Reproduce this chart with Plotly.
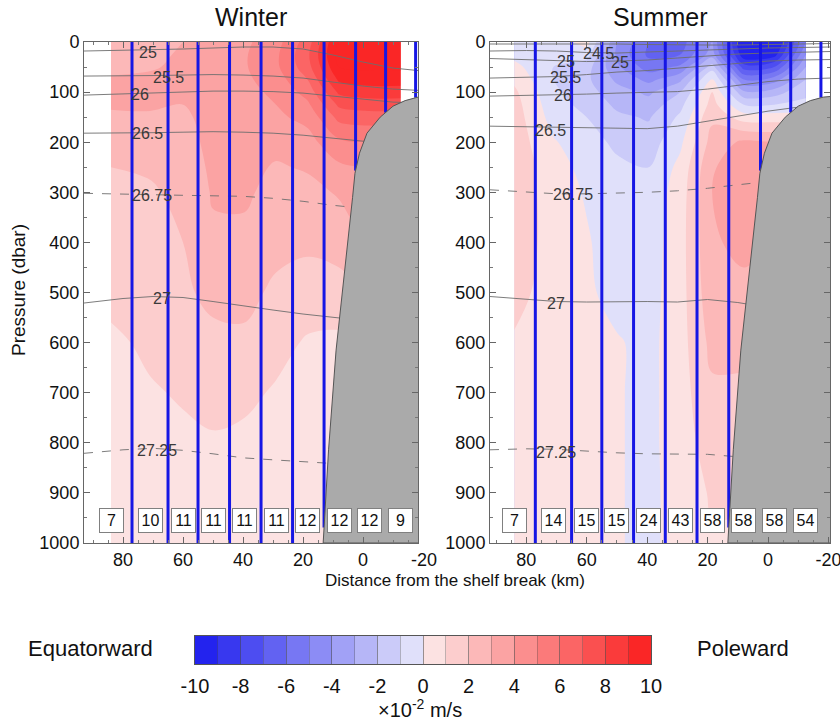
import numpy as np
import plotly.graph_objects as go

# ---------------------------------------------------------------------------
# Gridded along-slope velocity (x10^-2 m/s); rows = pressure, cols = bin centre
# ---------------------------------------------------------------------------
bin_km = [84, 71, 60, 50, 39.5, 29, 18.5, 8, -2, -12.5]
pressure = [0, 25, 50, 75, 100, 125, 150, 200, 250, 300, 400, 500, 600, 700, 800, 900, 1000]

winter_v = [
    [2.6, 2.7, 3.0, 3.4, 3.8, 4.6, 6.5, 10.2, 10.5, 10.5],
    [2.7, 2.8, 3.1, 3.5, 3.9, 4.8, 6.8, 10.4, 10.5, 10.5],
    [2.8, 2.9, 3.2, 3.6, 3.9, 4.8, 6.6, 10.0, 10.2, 10.2],
    [3.1, 3.2, 3.2, 3.6, 3.8, 4.5, 6.0, 9.2, 9.5, 9.5],
    [3.3, 3.3, 3.1, 3.5, 3.7, 4.2, 5.4, 8.2, 8.5, 8.5],
    [3.2, 3.2, 3.0, 3.5, 3.6, 4.0, 4.8, 7.2, 7.5, 7.5],
    [2.7, 2.8, 2.8, 3.4, 3.5, 3.8, 4.3, 6.3, 6.5, 6.5],
    [2.5, 2.5, 2.6, 3.3, 3.4, 3.3, 3.6, 4.8, 5.0, 5.0],
    [2.0, 2.1, 2.4, 3.2, 3.3, 2.9, 3.1, 3.8, 4.0, 4.0],
    [1.8, 1.9, 2.2, 3.1, 3.2, 2.6, 2.7, 3.1, 3.5, 3.5],
    [1.6, 1.7, 2.0, 2.8, 2.7, 2.3, 2.2, 2.4, 3.0, 3.0],
    [1.3, 1.5, 1.8, 2.3, 2.3, 1.8, 1.5, 1.6, 2.0, 2.0],
    [0.8, 1.2, 1.5, 1.7, 1.8, 1.3, 0.9, 0.8, 1.0, 1.0],
    [0.6, 0.9, 1.1, 1.3, 1.2, 0.9, 0.7, 0.7, 0.8, 0.8],
    [0.5, 0.7, 0.8, 0.9, 0.8, 0.7, 0.6, 0.6, 0.6, 0.6],
    [0.4, 0.6, 0.6, 0.6, 0.6, 0.6, 0.5, 0.5, 0.5, 0.5],
    [0.4, 0.5, 0.5, 0.5, 0.5, 0.5, 0.5, 0.5, 0.5, 0.5],
]

summer_v = [
    [-0.5, -0.6, 0.4, -4.0, -6.0, -6.5, -4.0, -10.5, -10.5, -5.0],
    [-0.3, -0.8, -0.6, -4.2, -6.2, -6.0, -3.5, -9.8, -9.5, -4.0],
    [0.3, -1.0, -1.6, -3.8, -5.5, -4.8, -1.5, -7.5, -7.0, -3.0],
    [0.8, -1.0, -1.8, -3.2, -4.3, -3.2, 0.2, -5.0, -4.5, -2.0],
    [1.2, -0.8, -1.6, -2.6, -3.2, -2.0, 1.0, -2.8, -2.5, -1.2],
    [1.4, -0.6, -1.3, -2.2, -2.6, -1.3, 1.4, -1.0, -1.0, -0.8],
    [1.5, -0.4, -1.0, -1.8, -2.1, -0.8, 1.8, 0.5, 0.5, 0.5],
    [1.6, 0.1, -0.6, -1.2, -1.5, -0.2, 2.4, 3.2, 3.0, 3.0],
    [1.7, 0.4, -0.3, -0.8, -1.0, 0.3, 2.9, 3.6, 3.5, 3.5],
    [1.7, 0.5, -0.1, -0.6, -0.7, 0.5, 3.0, 3.6, 3.5, 3.5],
    [1.6, 0.6, 0.1, -0.5, -0.5, 0.6, 2.9, 3.2, 3.0, 3.0],
    [1.3, 0.6, 0.2, -0.4, -0.4, 0.6, 2.7, 2.8, 2.8, 2.8],
    [0.9, 0.5, 0.4, 0.1, -0.3, 0.6, 2.3, 2.3, 2.3, 2.3],
    [0.7, 0.5, 0.4, 0.1, -0.3, 0.6, 1.8, 1.8, 1.8, 1.8],
    [0.6, 0.5, 0.4, 0.1, -0.3, 0.6, 1.4, 1.4, 1.4, 1.4],
    [0.5, 0.5, 0.4, 0.1, -0.3, 0.5, 1.1, 1.1, 1.1, 1.1],
    [0.5, 0.5, 0.4, 0.1, -0.3, 0.5, 0.9, 0.9, 0.9, 0.9],
]

# Stations and number of sections per bin
station_km = [77, 65, 55, 44.5, 34, 23.5, 13, 2.5, -7.5, -17.5]
winter_n = [7, 10, 11, 11, 11, 11, 12, 12, 12, 9]
summer_n = [7, 14, 15, 15, 24, 43, 58, 58, 58, 54]

# Bottom topography (shelf and slope)
bathy_km = [13.3, 11.5, 9.0, 5.3, 4.3, 3.5, 2.7, 1.2, -1.3, -5.7, -10.0, -14.0, -18.3, -22.0]
bathy_p = [1000, 814, 615, 415, 365, 310, 262, 222, 182, 150, 128, 117, 110, 108]

# Isopycnals (sigma-theta) ------------------------------------------------
winter_iso_km = [93, 80, 70, 60, 50, 40, 30, 20, 10, 0, -10, -20]
winter_iso_levels = ["25", "25.5", "26", "26.5", "26.75", "27", "27.25"]
winter_iso_p = [
    [18, 17, 16, 14, 12, 10, 10, 14, 26, 40, 52, 58],
    [68, 68, 67, 66, 65, 66, 68, 72, 80, 88, 94, 97],
    [106, 104, 102, 100, 98, 98, 99, 102, 108, 115, 120, 122],
    [182, 182, 181, 180, 179, 180, 182, 186, 192, 198, 200, 200],
    [302, 303, 305, 306, 307, 308, 312, 318, 326, 332, 335, 335],
    [521, 512, 508, 510, 518, 527, 535, 543, 550, 556, 560, 560],
    [821, 814, 811, 815, 822, 830, 834, 838, 842, 845, 848, 850],
]
winter_lbl_km = [71.7, 65, 74.3, 72, 70.3, 67, 68.7]
winter_lbl_p = [20, 70, 104, 182, 307, 511, 816]

summer_iso_km = [92, 80, 70, 60, 50, 40, 30, 20, 10, 0, -10, -20.5]
summer_iso_levels = ["24", "24.5", "25", "25.5", "26", "26.5", "26.75", "27", "27.25"]
summer_iso_p = [
    [4, 4, 3, 3, 4, 5, 6, 6, 6, 5, 4, 3],
    [18, 17, 18, 21, 22, 20, 17, 15, 13, 12, 11, 10],
    [33, 35, 38, 39, 38, 36, 32, 28, 24, 22, 20, 19],
    [72, 71, 69, 65, 60, 57, 52, 47, 42, 38, 36, 35],
    [108, 107, 106, 104, 102, 101, 99, 94, 86, 79, 74, 72],
    [168, 169, 170, 171, 172, 173, 168, 158, 148, 138, 130, 128],
    [295, 299, 303, 303, 302, 300, 297, 292, 285, 278, 272, 270],
    [508, 513, 518, 519, 518, 518, 519, 514, 520, 530, 535, 535],
    [814, 812, 813, 817, 820, 822, 823, 823, 828, 832, 835, 835],
]
summer_lbl_text = ["24.5", "25", "25", "25.5", "26", "26.5", "26.75", "27", "27.25"]
summer_lbl_km = [56, 67, 49, 67, 68, 72, 64.6, 70, 70]
summer_lbl_p = [22, 38, 40, 70, 106, 177, 304, 522, 820]

dashed_levels = {"26.75", "27.25"}

# Axis / colour bar ticks
x_ticks = [80, 60, 40, 20, 0, -20]
y_ticks = list(range(0, 1001, 100))
cbar_ticks = list(range(-10, 11, 2))

# ---------------------------------------------------------------------------
FONT = "Liberation Sans, Arial, sans-serif"
W, H = 840, 723
V_MIN, V_MAX, V_STEP = -10, 10, 1


def rgb(c):
    return "rgb(%d,%d,%d)" % tuple(int(round(v)) for v in c)


# 20 discrete bands: deep blue -> pale blue | pale red -> strong red
blue_strong, blue_light = np.array([35, 35, 238]), np.array([224, 224, 250])
red_light, red_strong = np.array([252, 226, 226]), np.array([250, 38, 38])
bands = [rgb(blue_strong + (blue_light - blue_strong) * i / 9) for i in range(10)]
bands += [rgb(red_light + (red_strong - red_light) * j / 9) for j in range(10)]
# plotly samples a filled band [k, k+1] at k+0.5 on a scale spanning -10.5..10.5
band_cols = [bands[0]] + bands + [bands[-1]]
colorscale = [[i / 21, c] for i, c in enumerate(band_cols)]

bx = np.array(bathy_km)[::-1]
bp = np.array(bathy_p)[::-1]


def station_bottom(x):
    return float(np.interp(x, bx, bp))


fig = go.Figure()


def add_panel(vel, iso_km, iso_levels, iso_p, xa, ya):
    fig.add_trace(go.Contour(
        x=bin_km, y=pressure, z=vel,
        xaxis=xa, yaxis=ya,
        colorscale=colorscale,
        contours=dict(start=V_MIN, end=V_MAX, size=V_STEP, coloring="fill", showlines=False),
        line=dict(width=0),
        hoverinfo="skip",
        showscale=False,
    ))
    for lev, pp in zip(iso_levels, iso_p):
        fig.add_trace(go.Scatter(
            x=iso_km, y=pp, xaxis=xa, yaxis=ya, mode="lines",
            line=dict(color="rgba(110,110,110,0.9)", width=1,
                      dash="dash" if lev in dashed_levels else "solid"),
            hoverinfo="skip", showlegend=False,
        ))
    # station tracks, from surface down to the bottom
    for s in station_km:
        fig.add_trace(go.Scatter(
            x=[s, s], y=[0, station_bottom(s)], xaxis=xa, yaxis=ya,
            mode="lines", line=dict(color="rgb(22,22,228)", width=3),
            hoverinfo="skip", showlegend=False,
        ))
    # topography
    fig.add_trace(go.Scatter(
        x=list(bathy_km) + [bathy_km[-1], bathy_km[0]],
        y=list(bathy_p) + [1000, 1000],
        xaxis=xa, yaxis=ya, mode="lines", fill="toself",
        fillcolor="rgb(170,170,170)", line=dict(color="#555", width=1),
        hoverinfo="skip", showlegend=False,
    ))


add_panel(winter_v, winter_iso_km, winter_iso_levels, winter_iso_p, "x", "y")
add_panel(summer_v, summer_iso_km, summer_iso_levels, summer_iso_p, "x2", "y2")

# Horizontal colour key: one cell per band, on its own axis pair
band_mid = np.arange(V_MIN + V_STEP / 2, V_MAX, V_STEP)
fig.add_trace(go.Heatmap(
    x=band_mid, y=[0.5], z=[band_mid],
    xaxis="x3", yaxis="y3",
    colorscale=colorscale, zmin=V_MIN - V_STEP / 2, zmax=V_MAX + V_STEP / 2,
    showscale=False, hoverinfo="skip",
))

annotations = []
lbl_font = dict(family=FONT, size=16, color="#3a3a3a")
for t, xk, pk in zip(winter_iso_levels, winter_lbl_km, winter_lbl_p):
    annotations.append(dict(x=xk, y=pk, xref="x", yref="y", text=t, showarrow=False, font=lbl_font))
for t, xk, pk in zip(summer_lbl_text, summer_lbl_km, summer_lbl_p):
    annotations.append(dict(x=xk, y=pk, xref="x2", yref="y2", text=t, showarrow=False, font=lbl_font))

box_font = dict(family=FONT, size=16, color="#111")
for n, xk in zip(winter_n, bin_km):
    annotations.append(dict(x=xk, y=955, xref="x", yref="y", text=str(n), showarrow=False,
                            font=box_font, bgcolor="white", bordercolor="#808080",
                            borderwidth=1, borderpad=1, width=21, height=21))
for n, xk in zip(summer_n, bin_km):
    annotations.append(dict(x=xk, y=955, xref="x2", yref="y2", text=str(n), showarrow=False,
                            font=box_font, bgcolor="white", bordercolor="#808080",
                            borderwidth=1, borderpad=1, width=21, height=21))


def paper_text(text, px, py, size, angle=0):
    annotations.append(dict(x=px / W, y=1 - py / H, xref="paper", yref="paper",
                            text=text, showarrow=False, textangle=angle,
                            xanchor="center", yanchor="middle", borderpad=0,
                            font=dict(family=FONT, size=size, color="#111")))


paper_text("Winter", 251, 17, 25)
paper_text("Summer", 660, 17, 25)
paper_text("Pressure (dbar)", 18, 290, 19, -90)
paper_text("Distance from the shelf break (km)", 455, 580, 17)
paper_text("Equatorward", 90, 648, 22)
paper_text("Poleward", 743, 648, 22)
paper_text("×10<sup>-2</sup> m/s", 420, 708, 20)
# the winter frame stops just short of -20 km; its label sits past the frame
paper_text("-20", 424, 560, 18)

common_x = dict(
    tickmode="array", tickvals=x_ticks, ticktext=[str(v) for v in x_ticks],
    ticks="inside", ticklen=6, tickcolor="#666", showline=True, linecolor="#666",
    mirror="allticks", showgrid=False, zeroline=False, ticklabeloverflow="allow",
    tickfont=dict(family=FONT, size=18, color="#111"),
    minor=dict(ticks="inside", dtick=5, ticklen=3, tickcolor="#777"),
)
common_y = dict(
    tickmode="array", tickvals=y_ticks, ticktext=[str(v) for v in y_ticks],
    ticks="inside", ticklen=6, tickcolor="#666", showline=True, linecolor="#666",
    mirror="allticks", showgrid=False, zeroline=False, range=[1000, 0],
    tickfont=dict(family=FONT, size=18, color="#111"),
    minor=dict(ticks="inside", dtick=50, ticklen=3, tickcolor="#777"),
)

y_dom = [1 - 543 / H, 1 - 42 / H]
fig.update_layout(
    width=W, height=H, margin=dict(l=0, r=0, t=0, b=0, autoexpand=False),
    paper_bgcolor="white", plot_bgcolor="white", showlegend=False,
    xaxis=dict(domain=[84 / W, 418 / W], range=[93, -18.3], anchor="y", **common_x),
    yaxis=dict(domain=y_dom, anchor="x", **common_y),
    xaxis2=dict(domain=[490 / W, 830 / W], range=[92, -20.5], anchor="y2", **common_x),
    yaxis2=dict(domain=y_dom, anchor="x2", **common_y),
    xaxis3=dict(
        domain=[195 / W, 651 / W], range=[V_MIN, V_MAX], anchor="y3",
        tickmode="array", tickvals=cbar_ticks, ticktext=[str(v) for v in cbar_ticks],
        ticks="inside", ticklen=28, tickwidth=1, tickcolor="rgba(80,80,80,0.35)",
        minor=dict(ticks="inside", dtick=V_STEP, ticklen=28, tickwidth=1,
                   tickcolor="rgba(80,80,80,0.35)"),
        showline=True, linecolor="#555", mirror=True,
        showgrid=False, zeroline=False, ticklabelstandoff=4,
        tickfont=dict(family=FONT, size=20, color="#111"),
    ),
    yaxis3=dict(
        domain=[1 - 664 / H, 1 - 636 / H], range=[0, 1], anchor="x3",
        showticklabels=False, ticks="", showline=True, linecolor="#555", mirror=True,
        showgrid=False, zeroline=False,
    ),
    annotations=annotations,
)

fig.write_html("out.html")
